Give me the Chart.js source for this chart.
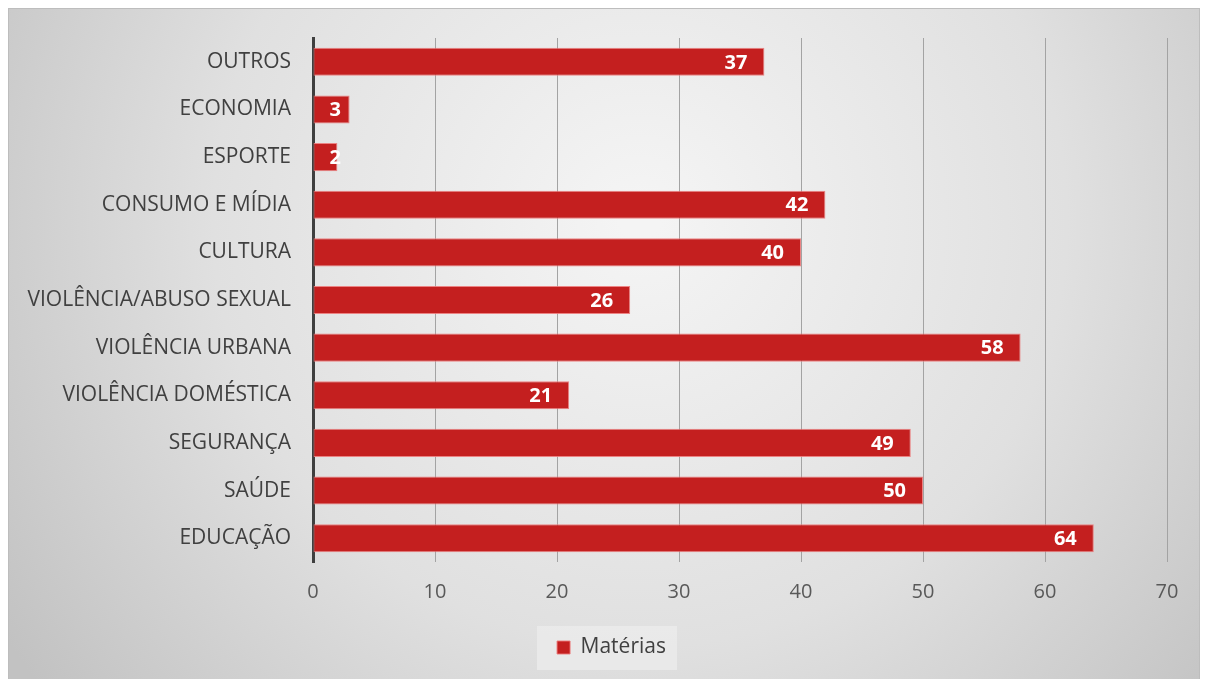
<!DOCTYPE html>
<html><head><meta charset="utf-8">
<script src="https://cdn.jsdelivr.net/npm/chart.js@4"></script>
<style>html,body{margin:0;padding:0;background:#fff;} canvas{display:block}</style>
</head><body>
<canvas id="c" width="1206" height="679"></canvas>
<script>
const categories = ['OUTROS','ECONOMIA','ESPORTE','CONSUMO E MÍDIA','CULTURA','VIOLÊNCIA/ABUSO SEXUAL','VIOLÊNCIA URBANA','VIOLÊNCIA DOMÉSTICA','SEGURANÇA','SAÚDE','EDUCAÇÃO'];
const materias = [37,3,2,42,40,26,58,21,49,50,64];
const xTicks = [0,10,20,30,40,50,60,70];
const seriesName = 'Matérias';

const PAD_BOTTOM = 11;
const LEGEND_SHIFT = 28;

const bgPlugin = {
  id: 'bg',
  afterLayout(chart) {
    const lg = chart.legend;
    if (lg && !lg._shifted) {
      lg.left += LEGEND_SHIFT; lg.right += LEGEND_SHIFT;
      (lg.legendHitBoxes || []).forEach(h => { h.left += LEGEND_SHIFT; });
      lg._shifted = true;
    }
  },
  beforeDraw(chart) {
    const ctx = chart.ctx;
    ctx.save();
    ctx.fillStyle = '#ffffff';
    ctx.fillRect(0, 0, chart.width, chart.height);
    const g = ctx.createRadialGradient(640, 220, 20, 640, 220, 760);
    g.addColorStop(0, '#f4f4f4');
    g.addColorStop(0.55, '#e0e0e0');
    g.addColorStop(1, '#c2c2c2');
    ctx.fillStyle = g;
    ctx.fillRect(8, 8, 1192, 700);
    ctx.strokeStyle = '#bdbdbd';
    ctx.lineWidth = 1;
    ctx.strokeRect(8.5, 8.5, 1191, 700);
    const hb = chart.legend && chart.legend.legendHitBoxes && chart.legend.legendHitBoxes[0];
    if (hb) {
      ctx.fillStyle = 'rgba(236,236,236,0.75)';
      ctx.fillRect(Math.round(hb.left - 20), Math.round(hb.top + hb.height / 2 - 22), Math.round(hb.width + 31), 44);
    }
    ctx.restore();
  }
};

const labelPlugin = {
  id: 'barLabels',
  afterDatasetsDraw(chart) {
    const ctx = chart.ctx;
    const meta = chart.getDatasetMeta(0);
    ctx.save();
    ctx.font = 'bold 20px "Open Sans", sans-serif';
    ctx.fillStyle = '#ffffff';
    ctx.textAlign = 'right';
    ctx.textBaseline = 'middle';
    meta.data.forEach((el, i) => {
      const txt = String(chart.data.datasets[0].data[i]);
      const w = ctx.measureText(txt).width;
      const right = Math.max(el.x - 17, el.base + 16 + w);
      ctx.fillText(txt, right, el.y + 1);
    });
    ctx.restore();
  }
};

new Chart(document.getElementById('c'), {
  type: 'bar',
  data: {
    labels: categories,
    datasets: [{
      label: seriesName,
      data: materias,
      backgroundColor: '#c41f1f',
      borderColor: 'rgba(236,120,120,0.9)',
      borderWidth: 1,
      borderSkipped: false,
      barPercentage: 0.59,
      categoryPercentage: 1
    }]
  },
  options: {
    indexAxis: 'y',
    responsive: false,
    animation: false,
    layout: { padding: { left: 0, right: 39, top: 38, bottom: PAD_BOTTOM } },
    scales: {
      x: {
        min: 0, max: 70,
        afterBuildTicks(s) { s.ticks = xTicks.map(v => ({ value: v })); },
        afterFit(s) { const lh = s.chart.legend ? s.chart.legend.height : 0; s.height = 679 - 562 - PAD_BOTTOM - lh; },
        grid: { color: '#a3a3a3', lineWidth: 1, drawTicks: false },
        border: { display: false },
        ticks: { color: '#595959', font: { family: '"Open Sans", sans-serif', size: 20 }, padding: 18 }
      },
      y: {
        afterFit(s) { s.width = 313; },
        grid: { display: false, drawTicks: false },
        border: { display: true, color: '#3f3f3f', width: 3 },
        ticks: { color: '#404040', font: { family: '"Open Sans", sans-serif', size: 21 }, padding: 22 }
      }
    },
    plugins: {
      legend: {
        position: 'bottom',
        labels: { color: '#404040', font: { family: '"Open Sans", sans-serif', size: 21 }, boxWidth: 13, boxHeight: 13, padding: 10 }
      },
      tooltip: { enabled: false }
    }
  },
  plugins: [bgPlugin, labelPlugin]
});
</script>
</body></html>
